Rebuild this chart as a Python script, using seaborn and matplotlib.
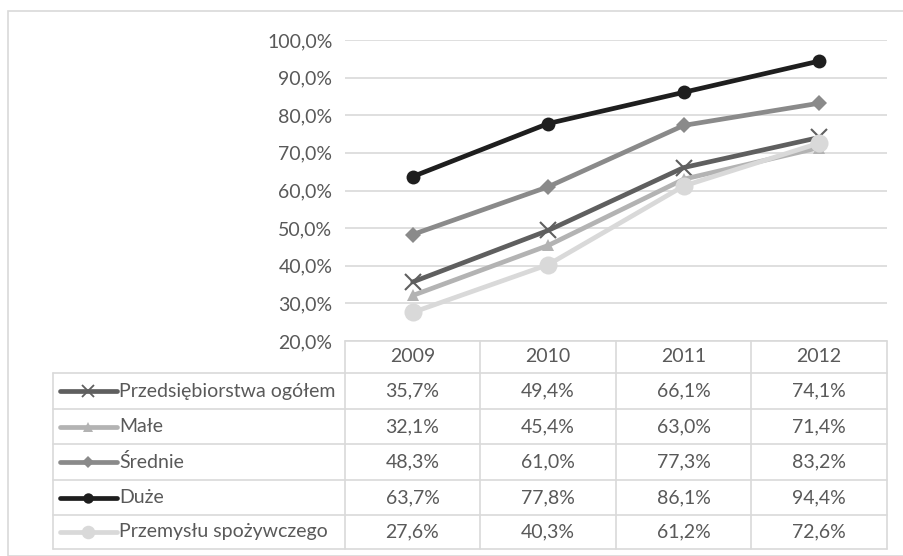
import matplotlib
matplotlib.use("Agg")
import matplotlib.pyplot as plt
from matplotlib.lines import Line2D
import seaborn as sns
import pandas as pd

years = ["2009", "2010", "2011", "2012"]
series_names = ["Przedsiębiorstwa ogółem", "Małe", "Średnie", "Duże", "Przemysłu spożywczego"]
ogolem = [35.7, 49.4, 66.1, 74.1]
male = [32.1, 45.4, 63.0, 71.4]
srednie = [48.3, 61.0, 77.3, 83.2]
duze = [63.7, 77.8, 86.1, 94.4]
spozywczy = [27.6, 40.3, 61.2, 72.6]
y_ticks = [20, 30, 40, 50, 60, 70, 80, 90, 100]

values = [ogolem, male, srednie, duze, spozywczy]
colors = ["#5f5f5f", "#b3b3b3", "#8a8a8a", "#1e1e1e", "#d9d9d9"]
markers = ["x", "^", "D", "o", "o"]
msizes = [11, 9, 8, 10, 13]

sns.set_theme(style="white")
plt.rcParams["font.family"] = ["Lato", "DejaVu Sans"]
txt = "#595959"
grid = "#d9d9d9"
fs = 14

W, H = 904, 556
def fx(px):
    return px / W
def fy(py):
    return 1 - py / H

fig = plt.figure(figsize=(9.04, 5.56), dpi=100)

# outer frame
fig.add_artist(plt.Rectangle((fx(8), fy(556)), fx(904), fy(11) - fy(556),
                             transform=fig.transFigure, fill=False, edgecolor=grid, lw=1.2))

left, right, top, bottom = 345, 887, 40, 341
ax = fig.add_axes([fx(left), fy(bottom), fx(right - left), fy(top) - fy(bottom)])

df = pd.DataFrame({"x": list(range(len(years))) * len(series_names),
                   "val": sum(values, []),
                   "series": sum([[n] * len(years) for n in series_names], [])})

for name, c, m, ms in zip(series_names, colors, markers, msizes):
    sub = df[df["series"] == name]
    sns.lineplot(data=sub, x="x", y="val", ax=ax, color=c, lw=3.4, marker=m,
                 markersize=ms, markeredgecolor=c, markeredgewidth=1.5 if m == "x" else 0,
                 legend=False)

ax.set_xlim(-0.5, len(years) - 0.5)
ax.set_ylim(20, 100)
ax.set_yticks(y_ticks)
ax.set_yticklabels([f"{t:.1f}%".replace(".", ",") for t in y_ticks], color=txt, fontsize=fs)
ax.tick_params(axis="y", length=0, pad=9)
ax.set_xticks([])
ax.set_xlabel("")
ax.set_ylabel("")
for s in ax.spines.values():
    s.set_visible(False)
ax.yaxis.grid(True, color=grid, lw=1.2)
ax.set_axisbelow(True)

# data table
col_edges = [345, 480, 616, 751, 887]
row_edges = [341, 373, 409, 444, 480, 515, 549]
tleft = 53

def hline(y, x0, x1):
    fig.add_artist(Line2D([fx(x0), fx(x1)], [fy(y), fy(y)], transform=fig.transFigure, color=grid, lw=1.2))
def vline(x, y0, y1):
    fig.add_artist(Line2D([fx(x), fx(x)], [fy(y0), fy(y1)], transform=fig.transFigure, color=grid, lw=1.2))

hline(row_edges[0], col_edges[0], col_edges[-1])
for y in row_edges[1:]:
    hline(y, tleft, col_edges[-1])
for x in col_edges:
    vline(x, row_edges[0], row_edges[-1])
vline(tleft, row_edges[1], row_edges[-1])

for j, yr in enumerate(years):
    cx = (col_edges[j] + col_edges[j + 1]) / 2
    cy = (row_edges[0] + row_edges[1]) / 2
    fig.text(fx(cx), fy(cy), yr, ha="center", va="center", color=txt, fontsize=fs)

for i, (name, vals, c, m, ms) in enumerate(zip(series_names, values, colors, markers, msizes)):
    cy = (row_edges[i + 1] + row_edges[i + 2]) / 2
    fig.add_artist(Line2D([fx(60), fx(117)], [fy(cy), fy(cy)], transform=fig.transFigure,
                          color=c, lw=3.4, solid_capstyle="round"))
    fig.add_artist(Line2D([fx(88)], [fy(cy)], transform=fig.transFigure, color=c, marker=m,
                          markersize=ms * 0.75, markeredgecolor=c,
                          markeredgewidth=1.3 if m == "x" else 0))
    fig.text(fx(119), fy(cy), name, ha="left", va="center", color=txt, fontsize=fs)
    for j, v in enumerate(vals):
        cx = (col_edges[j] + col_edges[j + 1]) / 2
        fig.text(fx(cx), fy(cy), f"{v:.1f}%".replace(".", ","), ha="center", va="center",
                 color=txt, fontsize=fs)

fig.savefig("out.png", dpi=100)
